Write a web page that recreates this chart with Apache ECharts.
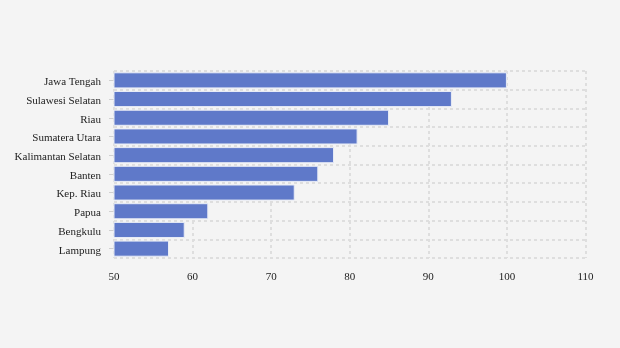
<!DOCTYPE html>
<html><head><meta charset="utf-8">
<script src="https://cdn.jsdelivr.net/npm/echarts@6/dist/echarts.min.js"></script>
<style>html,body{margin:0;padding:0;background:#f4f4f4;}#c{width:620px;height:348px;}</style>
</head><body><div id="c"></div>
<script>
const categories = ["Jawa Tengah","Sulawesi Selatan","Riau","Sumatera Utara","Kalimantan Selatan","Banten","Kep. Riau","Papua","Bengkulu","Lampung"];
const values = [100,93,85,81,78,76,73,62,59,57];
const xTicks = [50,60,70,80,90,100,110];
const chart = echarts.init(document.getElementById('c'));
chart.setOption({
  backgroundColor:'#f4f4f4',
  textStyle:{fontFamily:'Liberation Serif'},
  grid:{left:114,right:34.5,top:71,bottom:90},
  xAxis:{type:'value',min:xTicks[0],max:xTicks[xTicks.length-1],interval:10,
    axisLine:{show:false},axisTick:{show:false},
    axisLabel:{color:'#222',fontSize:11,fontFamily:'Liberation Serif',margin:14},
    splitLine:{show:true,lineStyle:{type:[3,3],color:'#dedede',width:2}}},
  yAxis:{type:'category',data:categories,inverse:true,
    axisLine:{show:false},
    axisTick:{show:true,alignWithLabel:true,length:5,lineStyle:{color:'#d0d0d0'}},
    axisLabel:{color:'#222',fontSize:11,fontFamily:'Liberation Serif',margin:13,
      formatter:function(v){return '{a|'+v+'}';},
      rich:{a:{color:'#222',fontSize:11,fontFamily:'Liberation Serif',padding:[4,0,0,0]}}},
    splitLine:{show:true,interval:0,lineStyle:{type:[3,3],color:'#dedede',width:2}}},
  series:[{type:'bar',data:values,barCategoryGap:'14%',
    itemStyle:{color:'#5f79c9',borderColor:'#e8ecf6',borderWidth:1},
    animation:false}]
});
</script></body></html>
